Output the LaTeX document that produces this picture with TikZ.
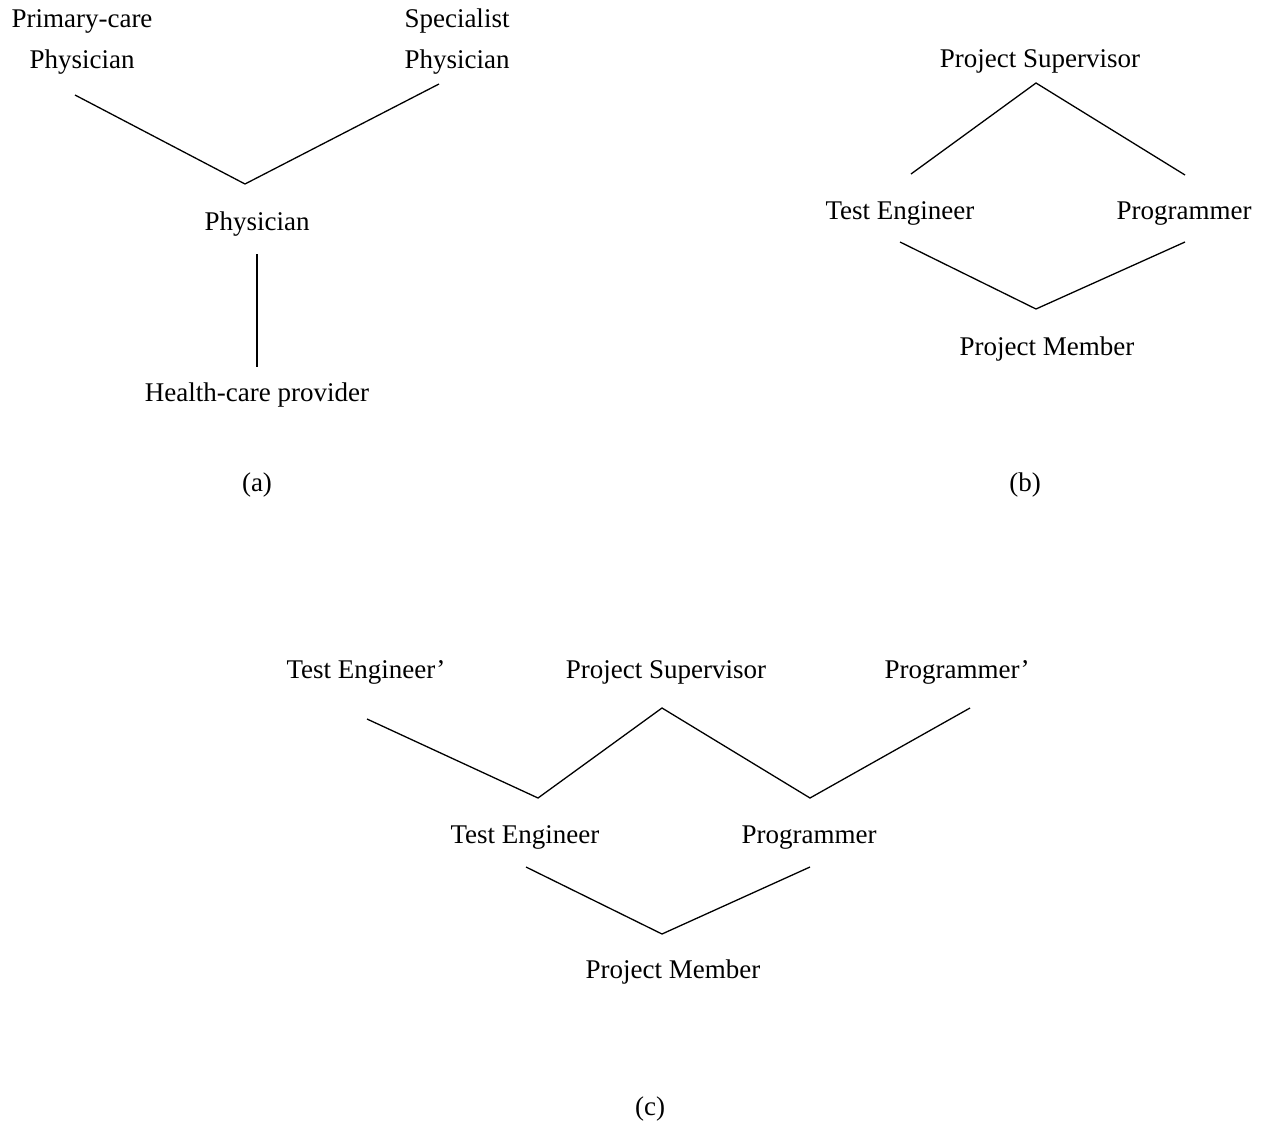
\documentclass[tikz,border=0pt]{standalone}
\usepackage{fontspec}
\setmainfont{Liberation Serif}
\begin{document}
\begin{tikzpicture}[x=1pt,y=-1pt,
  lbl/.style={inner sep=0pt,anchor=base,font=\fontsize{27}{41}\selectfont},
  stack/.style={inner sep=0pt,anchor=center,align=center,font=\fontsize{27}{41}\selectfont},
  edge/.style={line width=1.3pt,line join=miter}]
\useasboundingbox (0,0) rectangle (1269,1124);

% ---------- (a) generalisation of physicians ----------
\node[stack] (pcp) at (82,41.5) {Primary-care\\Physician};
\node[stack] (spp) at (457,41.5) {Specialist\\Physician};
\node[lbl] (phy) at (257,230) {Physician};
\node[lbl] (hcp) at (257,401) {Health-care provider};
\node[lbl] (capa) at (257,491) {(a)};
\coordinate (a1) at (75,95);
\coordinate (a2) at (245,184);
\coordinate (a3) at (439,84);
\coordinate (a4) at (257,254);
\coordinate (a5) at (257,367);
\draw[edge] (a1) -- (a2) -- (a3);
\draw[edge] (a4) -- (a5);

% ---------- (b) diamond of roles ----------
\node[lbl] (bsup) at (1040,67) {Project Supervisor};
\node[lbl] (bte) at (900,219) {Test Engineer};
\node[lbl] (bpr) at (1184,219) {Programmer};
\node[lbl] (bpm) at (1047,355) {Project Member};
\node[lbl] (capb) at (1025,491) {(b)};
\coordinate (b1) at (911,174);
\coordinate (b2) at (1036,83);
\coordinate (b3) at (1185,175);
\coordinate (b4) at (900,242);
\coordinate (b5) at (1036,309);
\coordinate (b6) at (1185,242);
\draw[edge] (b1) -- (b2) -- (b3);
\draw[edge] (b4) -- (b5) -- (b6);

% ---------- (c) roles with primed copies ----------
\node[lbl] (cte1) at (366,678) {Test Engineer’};
\node[lbl] (csup) at (666,678) {Project Supervisor};
\node[lbl] (cpr1) at (957,678) {Programmer’};
\node[lbl] (cte) at (525,843) {Test Engineer};
\node[lbl] (cpr) at (809,843) {Programmer};
\node[lbl] (cpm) at (673,978) {Project Member};
\node[lbl] (capc) at (650,1115) {(c)};
\coordinate (c1) at (367,719);
\coordinate (c2) at (538,798);
\coordinate (c3) at (662,708);
\coordinate (c4) at (810,798);
\coordinate (c5) at (970,708);
\coordinate (c6) at (526,867);
\coordinate (c7) at (662,934);
\coordinate (c8) at (810,867);
\draw[edge] (c1) -- (c2) -- (c3) -- (c4) -- (c5);
\draw[edge] (c6) -- (c7) -- (c8);
\end{tikzpicture}
\end{document}
